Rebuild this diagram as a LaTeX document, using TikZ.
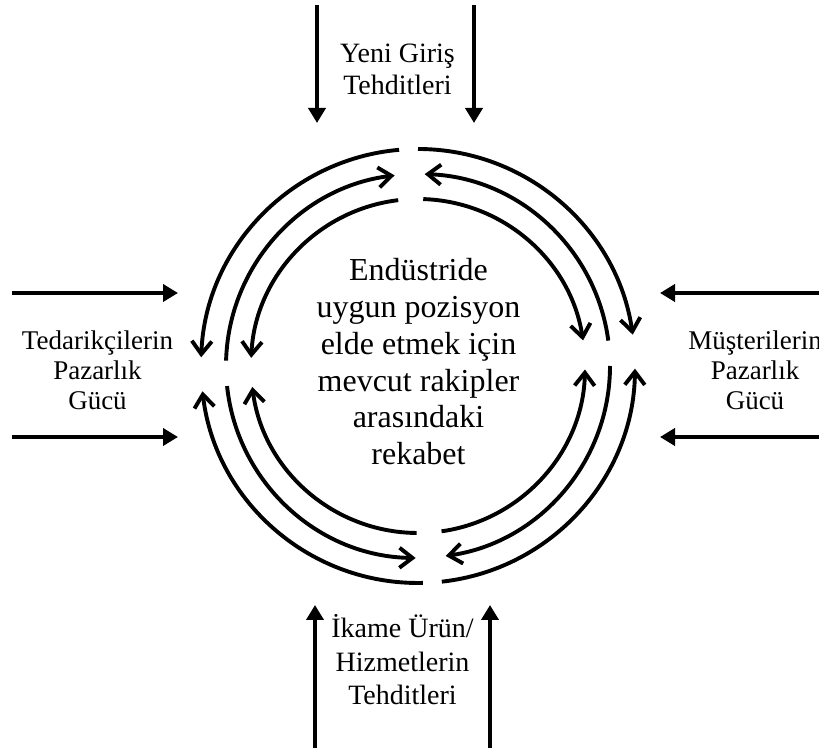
\documentclass[tikz,border=0pt]{standalone}
\usepackage{fontspec}
\setmainfont{Liberation Serif}
\usetikzlibrary{arrows.meta}
\newcommand\myarc[4]{\draw[#1] ([shift={(#3:#2)}]C) arc[start angle=#3,end angle=#4,radius=#2];}
\begin{document}
\begin{tikzpicture}[x=1pt,y=1pt,
  ring/.style={line width=3.9pt,-{Straight Barb[length=13pt,width=20pt]}},
  force/.style={line width=3.9pt,-{Triangle[length=15pt,width=17pt]}},
  lbl/.style={align=center,inner sep=0pt,anchor=south,font=\fontsize{28}{32}\selectfont},
  mid/.style={align=center,inner sep=0pt,anchor=south,font=\fontsize{32}{36.7}\selectfont}]
\useasboundingbox (0,0) rectangle (819,752);
\coordinate (C) at (418,386);
% top-right quadrant
\myarc{ring}{217}{90.0}{8.3}
\myarc{ring}{192}{7.6}{88.0}
\myarc{ring}{167}{88.2}{8.8}
% top-left quadrant
\myarc{ring}{217}{95.0}{177.7}
\myarc{ring}{192}{178.4}{97.0}
\myarc{ring}{167}{96.8}{177.2}
% bottom-left quadrant
\myarc{ring}{217}{271.3}{186.7}
\myarc{ring}{192}{186.0}{269.3}
\myarc{ring}{167}{269.5}{187.2}
% bottom-right quadrant
\myarc{ring}{217}{276.3}{359.3}
\myarc{ring}{192}{360.0}{278.3}
\myarc{ring}{167}{278.1}{358.8}
% texts
\node[mid] (centre) at (418.5,287) {Endüstride\\uygun pozisyon\\elde etmek için\\mevcut rakipler\\arasındaki\\rekabet};
\node[lbl] (top) at (397.5,657) {Yeni Giriş\\Tehditleri};
\node[lbl,font=\fontsize{28}{33.5}\selectfont] (bottom) at (402.5,47) {İkame Ürün/\\Hizmetlerin\\Tehditleri};
\node[lbl,font=\fontsize{27}{30}\selectfont] (left) at (97.5,342) {Tedarikçilerin\\Pazarlık\\Gücü};
\node[lbl,font=\fontsize{27}{30}\selectfont] (right) at (755,342) {Müşterilerin\\Pazarlık\\Gücü};
% outer force arrows
\coordinate (t1s) at (317,747); \coordinate (t1e) at (317,629);
\coordinate (t2s) at (474,747); \coordinate (t2e) at (474,629);
\coordinate (b1s) at (315,4); \coordinate (b1e) at (315,147);
\coordinate (b2s) at (490,4); \coordinate (b2e) at (490,147);
\coordinate (l1s) at (12,459); \coordinate (l1e) at (178,459);
\coordinate (l2s) at (12,315); \coordinate (l2e) at (178,315);
\coordinate (r1s) at (822,459); \coordinate (r1e) at (660,459);
\coordinate (r2s) at (822,315); \coordinate (r2e) at (660,315);
\draw[force] (t1s) -- (t1e);
\draw[force] (t2s) -- (t2e);
\draw[force] (b1s) -- (b1e);
\draw[force] (b2s) -- (b2e);
\draw[force] (l1s) -- (l1e);
\draw[force] (l2s) -- (l2e);
\draw[force] (r1s) -- (r1e);
\draw[force] (r2s) -- (r2e);
\end{tikzpicture}
\end{document}
